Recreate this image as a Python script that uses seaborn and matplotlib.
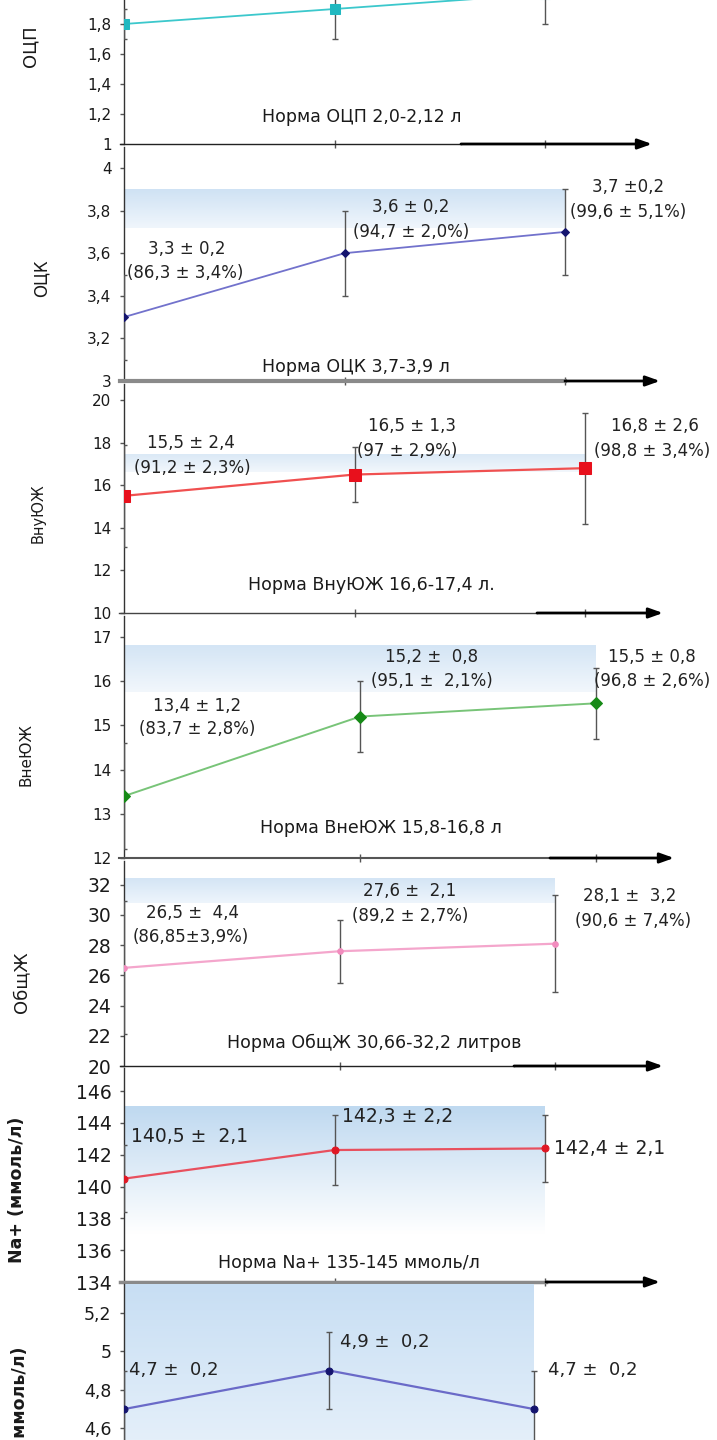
import numpy as np
import matplotlib
matplotlib.use("Agg")
import matplotlib.pyplot as plt
import seaborn as sns
from matplotlib.colors import LinearSegmentedColormap
from matplotlib.ticker import FuncFormatter

# ------------------------- data -------------------------
stages = [0, 1, 2]

ocp_mean = [1.8, 1.9, 2.0]
ocp_sd = [0.1, 0.2, 0.2]
ock_mean = [3.3, 3.6, 3.7]
ock_sd = [0.2, 0.2, 0.2]
vnu_mean = [15.5, 16.5, 16.8]
vnu_sd = [2.4, 1.3, 2.6]
vne_mean = [13.4, 15.2, 15.5]
vne_sd = [1.2, 0.8, 0.8]
obsh_mean = [26.5, 27.6, 28.1]
obsh_sd = [4.4, 2.1, 3.2]
na_mean = [140.5, 142.3, 142.4]
na_sd = [2.1, 2.2, 2.1]
k_mean = [4.7, 4.9, 4.7]
k_sd = [0.2, 0.2, 0.2]

ylabels = ["ОЦП", "ОЦК", "ВнуЮЖ", "ВнеЮЖ", "ОбщЖ", "Na+ (ммоль/л)", "K+ (ммоль/л)"]
norm_texts = ["Норма ОЦП 2,0-2,12 л", "Норма ОЦК 3,7-3,9 л", "Норма ВнуЮЖ 16,6-17,4 л.",
              "Норма ВнеЮЖ 15,8-16,8 л", "Норма ОбщЖ 30,66-32,2 литров",
              "Норма Na+ 135-145 ммоль/л", None]
band_lo = [None, 3.72, 16.6, 15.75, 30.8, 137.0, 4.4]
band_hi = [None, 3.9, 17.4, 16.8, 32.4, 145.0, 5.5]

ocp_ticks = [1.0, 1.2, 1.4, 1.6, 1.8, 2.0, 2.2]
ock_ticks = [3.0, 3.2, 3.4, 3.6, 3.8, 4.0]
vnu_ticks = [10, 12, 14, 16, 18, 20]
vne_ticks = [12, 13, 14, 15, 16, 17]
obsh_ticks = [20, 22, 24, 26, 28, 30, 32]
na_ticks = [134, 136, 138, 140, 142, 144, 146]
k_ticks = [4.4, 4.6, 4.8, 5.0, 5.2]

ock_labels = ["3,3 ± 0,2", "(86,3 ± 3,4%)", "3,6 ± 0,2", "(94,7 ± 2,0%)", "3,7 ±0,2", "(99,6 ± 5,1%)"]
vnu_labels = ["15,5 ± 2,4", "(91,2 ± 2,3%)", "16,5 ± 1,3", "(97 ± 2,9%)", "16,8 ± 2,6", "(98,8 ± 3,4%)"]
vne_labels = ["13,4 ± 1,2", "(83,7 ± 2,8%)", "15,2 ±  0,8", "(95,1 ±  2,1%)", "15,5 ± 0,8", "(96,8 ± 2,6%)"]
obsh_labels = ["26,5 ±  4,4", "(86,85±3,9%)", "27,6 ±  2,1", "(89,2 ± 2,7%)", "28,1 ±  3,2", "(90,6 ± 7,4%)"]
na_labels = ["140,5 ±  2,1", "142,3 ± 2,2", "142,4 ± 2,1"]
k_labels = ["4,7 ±  0,2", "4,9 ±  0,2", "4,7 ±  0,2"]

means = [ocp_mean, ock_mean, vnu_mean, vne_mean, obsh_mean, na_mean, k_mean]
sds = [ocp_sd, ock_sd, vnu_sd, vne_sd, obsh_sd, na_sd, k_sd]
ticks = [ocp_ticks, ock_ticks, vnu_ticks, vne_ticks, obsh_ticks, na_ticks, k_ticks]
labels = [[], ock_labels, vnu_labels, vne_labels, obsh_labels, na_labels, k_labels]

# ------------------------- layout (pixels) -------------------------
W, H = 717, 1440
LEFT = 124
layout = [
    dict(y0=144, ymin=1.0, ppu=150.0, top=-40, step=210.5, end=652, bstart=461, sp_col="#222", sp_lw=1.0),
    dict(y0=381, ymin=3.0, ppu=213.0, top=147, step=220.5, end=660, bstart=565, sp_col="#8a8a8a", sp_lw=3.0),
    dict(y0=613, ymin=10.0, ppu=21.3, top=384, step=230.5, end=663, bstart=537, sp_col="#444", sp_lw=1.0),
    dict(y0=858, ymin=12.0, ppu=44.2, top=616, step=236.0, end=674, bstart=550, sp_col="#555", sp_lw=1.5),
    dict(y0=1066, ymin=20.0, ppu=15.1, top=861, step=215.5, end=663, bstart=514, sp_col="#222", sp_lw=1.0),
    dict(y0=1282, ymin=134.0, ppu=15.9, top=1068, step=210.5, end=660, bstart=546, sp_col="#8a8a8a", sp_lw=2.5),
    dict(y0=1467, ymin=4.4, ppu=193.0, top=1284, step=205.0, end=660, bstart=546, sp_col="#8a8a8a", sp_lw=2.5),
]
styles = [
    dict(lc="#3cc8cc", mc="#20b8c0", mk="s", ms=7, lw=1.3),
    dict(lc="#7272cc", mc="#14146e", mk="D", ms=4, lw=1.3),
    dict(lc="#f05050", mc="#e8101c", mk="s", ms=8, lw=1.6),
    dict(lc="#78c478", mc="#168a16", mk="D", ms=6, lw=1.4),
    dict(lc="#f4a6cc", mc="#f28cbe", mk="o", ms=4, lw=1.6),
    dict(lc="#e8505e", mc="#e01824", mk="o", ms=5, lw=1.6),
    dict(lc="#6a6ac8", mc="#14146e", mk="o", ms=5, lw=1.6),
]
band_cols = [None,
             ("#f0f6fc", "#cfe2f4"),
             ("#f2f7fc", "#dbe9f6"),
             ("#f2f7fc", "#d4e5f5"),
             ("#eef5fc", "#d4e5f5"),
             ("#ffffff", "#bfd9f0"),
             ("#e9f2fb", "#c2dbf2")]
tick_fs = [11, 11, 11, 11, 13.5, 13.5, 12.5]
ylab_pos = [(30, 46, 13, "normal"), (42, 278, 12, "normal"), (38, 513, 10.5, "normal"),
            (26, 755, 11, "normal"), (21, 982, 13, "normal"), (17, 1190, 12.5, "bold"),
            (20, 1347, 12.5, "bold")]
norm_pos = [(362, 117), (356, 367), (371, 585), (381, 828), (374, 1043), (349, 1263), None]
anno_pos = [
    [],
    [(187, 249), (185, 273), (411, 207), (411, 232), (628, 187), (628, 212)],
    [(191, 443), (192, 468), (412, 426), (407, 451), (655, 426), (652, 451)],
    [(197, 706), (197, 729), (432, 657), (432, 681), (652, 657), (652, 681)],
    [(193, 913), (191, 937), (410, 891), (410, 916), (630, 896), (633, 921)],
    [(190, 1136), (398, 1116), (610, 1148)],
    [(129, 1370), (340, 1342), (548, 1370)],
]
anno_fs = [12, 12, 12, 12, 12, 13.5, 13]

sns.set_theme(style="white")
plt.rcParams["font.family"] = ["DejaVu Sans"]

fig = plt.figure(figsize=(W / 100, H / 100), dpi=100)
fig.patch.set_facecolor("white")


def fx(x):
    return x / W


def fy(y):
    return 1 - y / H


comma = FuncFormatter(lambda v, p: ("%g" % v).replace(".", ","))

for i in range(7):
    L = layout[i]
    S = styles[i]
    hpx = L["y0"] - L["top"]
    ymax = L["ymin"] + hpx / L["ppu"]
    xmax = (L["end"] - LEFT) / L["step"]
    ax = fig.add_axes([fx(LEFT), fy(L["y0"]), (L["end"] - LEFT) / W, hpx / H])
    ax.patch.set_alpha(0)

    # normal-range band
    if band_lo[i] is not None:
        cmap = LinearSegmentedColormap.from_list("b%d" % i, list(band_cols[i]))
        grad = np.linspace(1, 0, 200).reshape(-1, 1)
        ax.imshow(grad, extent=(0, 2, band_lo[i], band_hi[i]), aspect="auto",
                  cmap=cmap, vmin=0, vmax=1, zorder=0, interpolation="bilinear")

    # error bars
    ax.errorbar(stages, means[i], yerr=sds[i], fmt="none", ecolor="#555555",
                elinewidth=1.0, capsize=2.5, capthick=1.0, zorder=3, clip_on=True)
    # line with markers
    sns.lineplot(x=stages, y=means[i], ax=ax, color=S["lc"], linewidth=S["lw"],
                 marker=S["mk"], markersize=S["ms"], markerfacecolor=S["mc"],
                 markeredgecolor=S["mc"], zorder=4, clip_on=True)

    ax.set_xlim(0, xmax)
    ax.set_ylim(L["ymin"], ymax)
    ax.set_yticks(ticks[i])
    ax.yaxis.set_major_formatter(comma)
    ax.set_xticks([1, 2])
    ax.set_xticklabels(["", ""])
    ax.tick_params(axis="y", direction="out", length=3, width=1, color="#555",
                   labelsize=tick_fs[i], labelcolor="#1a1a1a", pad=6, left=True)
    ax.tick_params(axis="x", direction="inout", length=6, width=1, color="#555", bottom=True)
    for sp in ["top", "right"]:
        ax.spines[sp].set_visible(False)
    ax.spines["left"].set_color("#333")
    ax.spines["left"].set_linewidth(1.0)
    bstart = (L["bstart"] - LEFT) / L["step"]
    ax.spines["bottom"].set_bounds(-0.02, bstart)
    ax.spines["bottom"].set_color(L["sp_col"])
    ax.spines["bottom"].set_linewidth(L["sp_lw"])
    ax.annotate("", xy=(xmax, L["ymin"]), xytext=(bstart, L["ymin"]),
                xycoords="data", textcoords="data", annotation_clip=False,
                arrowprops=dict(arrowstyle="-|>,head_length=0.7,head_width=0.25",
                                color="black", lw=2.0, shrinkA=0, shrinkB=0))
    ax.set_xlabel("")
    ax.set_ylabel("")
    if ax.get_legend() is not None:
        ax.get_legend().remove()

    # y label
    lx, ly, lfs, lw_ = ylab_pos[i]
    fig.text(fx(lx), fy(ly), ylabels[i], rotation=90, ha="center",
             va=("top" if i == 6 else "center"),
             fontsize=lfs, fontweight=lw_, color="#1a1a1a")

    # norm text
    if norm_texts[i] is not None:
        nx, ny = norm_pos[i]
        fig.text(fx(nx), fy(ny), norm_texts[i], ha="center", va="center",
                 fontsize=12.5, color="#1a1a1a")

    # value annotations
    for txt, (px, py) in zip(labels[i], anno_pos[i]):
        fig.text(fx(px), fy(py), txt, ha=("left" if i == 6 else "center"), va="center",
                 fontsize=anno_fs[i], color="#222")

fig.savefig("out.png", dpi=100)
